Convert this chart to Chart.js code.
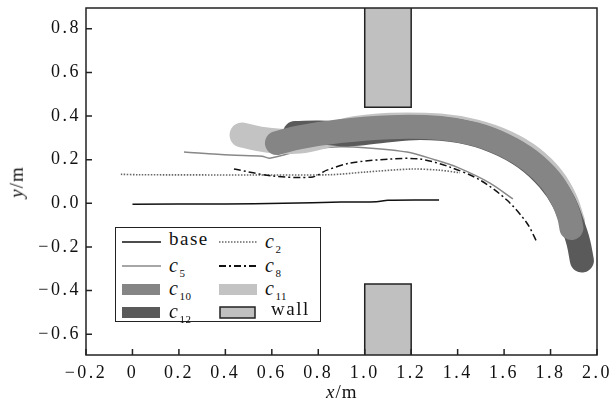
<!DOCTYPE html>
<html>
<head>
<meta charset="utf-8">
<script src="https://cdn.jsdelivr.net/npm/chart.js@4.4.0/dist/chart.umd.min.js"></script>
<style>
  body { margin: 0; background: #fff; }
  #wrap { position: relative; width: 612px; height: 405px; font-family: "Liberation Serif", serif; color: #111; }
  #legend { position: absolute; left: 115px; top: 227px; width: 206px; height: 95px; border: 1.5px solid #222; background: #fff; box-sizing: border-box; opacity: 0.999; }
  .sw { position: absolute; }
  .lab { position: absolute; font-size: 19px; letter-spacing: 1.5px; line-height: 20px; white-space: nowrap; color: #111; }
  .lab i { font-style: italic; font-size: 20px; }
  .lab sub { font-size: 11px; vertical-align: -5px; letter-spacing: 0.5px; color: #111; }
  .title { position: absolute; font-size: 19px; letter-spacing: 1px; white-space: nowrap; transform-origin: center; }
</style>
</head>
<body>
<div id="wrap">
  <canvas id="chart" width="612" height="405"></canvas>
  <div id="legend">
    <svg class="sw" style="left:6px;top:7px" width="40" height="14"><line x1="0" y1="7" x2="39" y2="7" stroke="#111" stroke-width="1.5"/></svg>
    <div class="lab" style="left:53px;top:1px">base</div>
    <svg class="sw" style="left:103px;top:7px" width="40" height="14"><line x1="0" y1="7" x2="38" y2="7" stroke="#666" stroke-width="1.5" stroke-dasharray="1.5 1.5"/></svg>
    <div class="lab" style="left:149px;top:3px"><i>c</i><sub>2</sub></div>

    <svg class="sw" style="left:6px;top:31px" width="40" height="14"><line x1="0" y1="7" x2="39" y2="7" stroke="#888" stroke-width="1.5"/></svg>
    <div class="lab" style="left:53px;top:27px"><i>c</i><sub>5</sub></div>
    <svg class="sw" style="left:103px;top:31px" width="40" height="14"><line x1="0" y1="7" x2="38" y2="7" stroke="#111" stroke-width="2" stroke-dasharray="7 3 2 3"/></svg>
    <div class="lab" style="left:149px;top:27px"><i>c</i><sub>8</sub></div>

    <svg class="sw" style="left:6px;top:55px" width="40" height="14"><rect x="0" y="1" width="38" height="11" fill="#858585"/></svg>
    <div class="lab" style="left:53px;top:50px"><i>c</i><sub>10</sub></div>
    <svg class="sw" style="left:103px;top:55px" width="40" height="14"><rect x="0" y="1" width="38" height="11" fill="#c3c3c3"/></svg>
    <div class="lab" style="left:149px;top:50px"><i>c</i><sub>11</sub></div>

    <svg class="sw" style="left:6px;top:78px" width="40" height="14"><rect x="0" y="1" width="38" height="11" fill="#5a5a5a"/></svg>
    <div class="lab" style="left:53px;top:73px"><i>c</i><sub>12</sub></div>
    <svg class="sw" style="left:103px;top:78px" width="40" height="14"><rect x="1" y="1" width="35" height="11" fill="#c0c0c0" stroke="#222" stroke-width="1.5"/></svg>
    <div class="lab" style="left:155px;top:71px">wall</div>
  </div>
  <div class="title" style="left:326px;top:381px"><i>x</i>/m</div>
  <div class="title" style="left:1px;top:171px;transform:rotate(-90deg)"><i>y</i>/m</div>
</div>
<script>
// trajectories, [x, y] in metres
const base = [[0.0, -0.004], [0.4, -0.003], [0.65, 0.0], [0.9, 0.006], [1.05, 0.007], [1.1, 0.014], [1.32, 0.015]];
const c2 = [[-0.05, 0.133], [0.03, 0.131], [0.5, 0.130], [0.85, 0.131], [1.0, 0.143], [1.2, 0.157], [1.32, 0.152], [1.41, 0.14]];
const c5 = [[0.222, 0.235], [0.42, 0.221], [0.558, 0.216], [0.59, 0.207], [0.7, 0.235], [0.8, 0.252], [0.893, 0.259],
            [1.0, 0.255], [1.182, 0.235], [1.3, 0.2], [1.397, 0.166], [1.539, 0.093], [1.638, 0.02]];
const c8 = [[0.437, 0.157], [0.605, 0.125], [0.777, 0.121], [0.837, 0.152], [0.936, 0.184], [1.109, 0.203], [1.238, 0.203],
            [1.367, 0.166], [1.496, 0.107], [1.612, 0.015], [1.698, -0.09], [1.741, -0.177]];
const c10 = [[0.622, 0.276], [0.721, 0.303], [0.893, 0.331], [1.109, 0.349], [1.324, 0.345], [1.475, 0.317], [1.604, 0.265],
             [1.711, 0.196], [1.8, 0.105], [1.853, 0.013], [1.879, -0.056], [1.89, -0.113]];
const c11 = [[0.472, 0.313], [0.579, 0.29], [0.72, 0.285], [0.85, 0.315], [0.958, 0.342], [1.109, 0.358], [1.324, 0.354],
             [1.475, 0.327], [1.612, 0.276], [1.72, 0.207], [1.808, 0.114], [1.864, 0.012], [1.895, -0.086]];
const c12 = [[0.7, 0.322], [0.807, 0.324], [0.936, 0.316], [1.066, 0.33], [1.238, 0.345], [1.41, 0.33], [1.561, 0.283],
             [1.69, 0.208], [1.792, 0.108], [1.855, 0.01], [1.896, -0.1], [1.92, -0.18], [1.935, -0.262]];
const wallTop = [[1.0, 0.95], [1.0, 0.44], [1.2, 0.44], [1.2, 0.95]];
const wallBottom = [[1.0, -0.75], [1.0, -0.37], [1.2, -0.37], [1.2, -0.75]];

const xTicks = [-0.2, 0, 0.2, 0.4, 0.6, 0.8, 1.0, 1.2, 1.4, 1.6, 1.8, 2.0];
const xTickLabels = ['\u22120.2', '0', '0.2', '0.4', '0.6', '0.8', '1.0', '1.2', '1.4', '1.6', '1.8', '2.0'];
const yTicks = [-0.6, -0.4, -0.2, 0, 0.2, 0.4, 0.6, 0.8];
const yTickLabels = ['\u22120.6', '\u22120.4', '\u22120.2', '0.0', '0.2', '0.4', '0.6', '0.8'];

const pts = arr => arr.map(p => ({ x: p[0], y: p[1] }));
const pick = (vals, labels) => v => {
    const i = vals.findIndex(t => Math.abs(t - v) < 1e-6);
    return i < 0 ? '' : labels[i];
};

const line = (data, color, width, extra) => Object.assign({
    data: pts(data), showLine: true, borderColor: color, borderWidth: width,
    pointRadius: 0, tension: 0.3, fill: false
}, extra);

const band = (data, color, width, order) => line(data, color, width, {
    order, tension: 0.4, borderCapStyle: 'round', borderJoinStyle: 'round'
});

const frame = {
    id: 'frame',
    beforeDraw(chart) { chart.ctx.letterSpacing = '2.5px'; },
    afterDatasetsDraw(chart) {
        const { ctx, chartArea: a, scales: { x, y } } = chart;
        ctx.save();
        ctx.strokeStyle = '#222';
        ctx.lineWidth = 1.5;
        ctx.beginPath();
        x.ticks.forEach(t => {
            const px = x.getPixelForValue(t.value);
            ctx.moveTo(px, a.bottom); ctx.lineTo(px, a.bottom - 6);
        });
        y.ticks.forEach(t => {
            const py = y.getPixelForValue(t.value);
            ctx.moveTo(a.left, py); ctx.lineTo(a.left + 6, py);
        });
        ctx.stroke();
        ctx.strokeRect(a.left, a.top, a.right - a.left, a.bottom - a.top);
        ctx.restore();
    }
};

new Chart(document.getElementById('chart'), {
    type: 'scatter',
    data: {
        datasets: [
            line(c8, '#111', 1.5, { order: 0, borderDash: [7, 3, 2, 3] }),
            line(c2, '#666', 1.6, { order: 1, borderDash: [1.5, 1.5] }),
            line(base, '#111', 1.5, { order: 2 }),
            band(c10, '#858585', 24, 3),
            band(c12, '#5a5a5a', 24, 4),
            band(c11, '#c3c3c3', 25, 5),
            line(c5, '#888', 1.5, { order: 6 }),
            line(wallTop, '#222', 1.5, { order: 7, tension: 0, fill: 'end', backgroundColor: '#c0c0c0' }),
            line(wallBottom, '#222', 1.5, { order: 8, tension: 0, fill: 'start', backgroundColor: '#c0c0c0' })
        ]
    },
    options: {
        responsive: false,
        devicePixelRatio: 1,
        animation: false,
        layout: { padding: { left: 0, top: 8, right: 15, bottom: 0 } },
        plugins: { legend: { display: false }, tooltip: { enabled: false } },
        scales: {
            x: {
                type: 'linear', min: -0.2, max: 2.0,
                border: { display: false },
                grid: { display: false, drawTicks: false },
                ticks: {
                    stepSize: 0.2, includeBounds: false, padding: 7, maxRotation: 0, autoSkip: false,
                    color: '#111', font: { family: 'Liberation Serif', size: 18 },
                    callback: pick(xTicks, xTickLabels)
                },
                afterFit(s) { s.height = 50; s.paddingLeft = 0; s.paddingRight = 0; }
            },
            y: {
                type: 'linear', min: -0.695, max: 0.895,
                border: { display: false },
                grid: { display: false, drawTicks: false },
                ticks: {
                    stepSize: 0.2, includeBounds: false, padding: 5, autoSkip: false,
                    color: '#111', font: { family: 'Liberation Serif', size: 18 },
                    callback: pick(yTicks, yTickLabels)
                },
                afterFit(s) { s.width = 86; s.paddingTop = 0; s.paddingBottom = 0; }
            }
        }
    },
    plugins: [frame]
});
</script>
</body>
</html>
